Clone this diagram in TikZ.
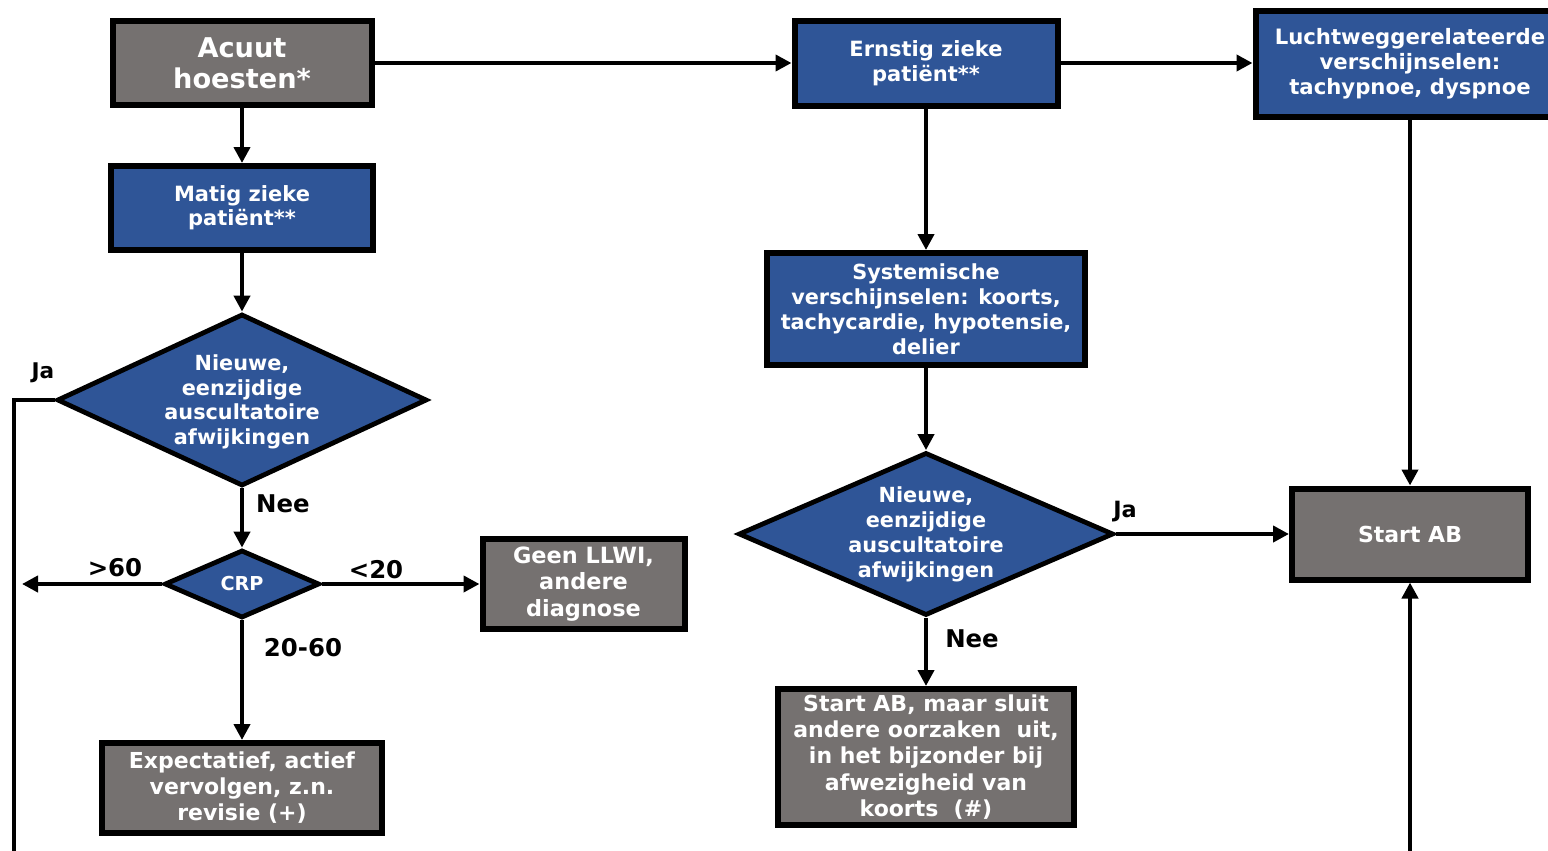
\documentclass[tikz,border=0pt]{standalone}
\usepackage{fontspec}
\setmainfont{DejaVu Sans}
\usetikzlibrary{shapes.geometric,arrows.meta}
\definecolor{boxblue}{RGB}{47,85,151}
\definecolor{boxgray}{RGB}{117,113,112}
\tikzset{
  base/.style={draw=black, line width=3pt, inner sep=0pt, text=white, align=center, font=\bfseries},
  bluebox/.style={base, fill=boxblue},
  graybox/.style={base, fill=boxgray},
  dia/.style={draw=black, line width=2.4pt, fill=boxblue, shape=diamond, inner sep=0pt},
  dtext/.style={text=white, align=center, font=\bfseries\fontsize{10.4}{12.3}\selectfont},
  conn/.style={line width=2.3pt, -{Triangle[length=8pt,width=8pt]}},
  plain/.style={line width=2.3pt},
  lbl/.style={font=\bfseries\fontsize{12.2}{14}\selectfont, text=black, inner sep=0pt}
}
\begin{document}
\begin{tikzpicture}[x=0.5pt,y=-0.5pt]
\useasboundingbox (0,0) rectangle (1548,851);
\clip (0,0) rectangle (1548,851);
% nodes
\node[graybox, minimum width=129.5pt, minimum height=42pt, font=\bfseries\fontsize{13.6}{15.5}\selectfont] (acuut) at (242,63) {Acuut\\hoesten*};
\node[bluebox, minimum width=131pt, minimum height=42pt, font=\bfseries\fontsize{10.5}{12}\selectfont] (matig) at (242,208) {Matig zieke\\patiënt**};
\node[dia, minimum width=185pt, minimum height=86pt] (d1) at (242,400) {};
\node[dtext] (d1t) at ([yshift=-1pt]d1.center) {Nieuwe,\\eenzijdige\\auscultatoire\\afwijkingen};
\node[dia, minimum width=77.5pt, minimum height=34pt] (crp) at (242,584) {};
\node[dtext, font=\bfseries\fontsize{9.6}{11}\selectfont] (crpt) at (crp) {CRP};
\node[graybox, minimum width=101pt, minimum height=45pt, font=\bfseries\fontsize{11.2}{13.2}\selectfont] (geen) at (583.5,584) {Geen LLWI,\\andere\\diagnose};
\node[graybox, minimum width=140pt, minimum height=45pt, font=\bfseries\fontsize{11}{13}\selectfont] (exp) at (242,788) {Expectatief, actief\\vervolgen, z.n.\\revisie (+)};
\node[bluebox, minimum width=131.5pt, minimum height=42.5pt, font=\bfseries\fontsize{10.5}{12.5}\selectfont] (ernstig) at (926,63) {Ernstig zieke\\patiënt**};
\node[bluebox, minimum width=154.5pt, minimum height=53pt, font=\bfseries\fontsize{10.6}{12.5}\selectfont] (lucht) at (1410,64) {Luchtweggerelateerde\\verschijnselen:\\tachypnoe, dyspnoe};
\node[bluebox, minimum width=159pt, minimum height=56pt, font=\bfseries\fontsize{10.4}{12.5}\selectfont] (sys) at (926,309) {Systemische\\verschijnselen: koorts,\\tachycardie, hypotensie,\\delier};
\node[dia, minimum width=187.5pt, minimum height=81.5pt] (d2) at (926,534) {};
\node[dtext, font=\bfseries\fontsize{10.4}{12.5}\selectfont] (d2t) at (d2) {Nieuwe,\\eenzijdige\\auscultatoire\\afwijkingen};
\node[graybox, minimum width=118pt, minimum height=45.5pt, font=\bfseries\fontsize{11}{13}\selectfont] (sab) at (1410,534) {Start AB};
\node[graybox, minimum width=148pt, minimum height=68pt, font=\bfseries\fontsize{11}{13.2}\selectfont] (sabm) at (926,757) {Start AB, maar sluit\\andere oorzaken\ \ uit,\\in het bijzonder bij\\afwezigheid van\\koorts\ \ (\#)};
% free ends
\coordinate (jaleft) at (14,400);
\coordinate (jabot) at (14,860);
\coordinate (gt60) at (22,584);
\coordinate (sabbot) at (1410,860);
% connectors
\draw[conn] (acuut.east) -- (ernstig.west);
\draw[conn] (acuut.south) -- (matig.north);
\draw[conn] (matig.south) -- (d1.north);
\draw[conn] (d1.south) -- (crp.north);
\draw[plain] (d1.west) -- (jaleft) -- (jabot);
\draw[conn] (crp.west) -- (gt60);
\draw[conn] (crp.east) -- (geen.west);
\draw[conn] (crp.south) -- (exp.north);
\draw[conn] (ernstig.east) -- (ernstig.east -| lucht.west);
\draw[conn] (ernstig.south) -- (sys.north);
\draw[conn] (sys.south) -- (d2.north);
\draw[conn] (d2.east) -- (sab.west);
\draw[conn] (d2.south) -- (sabm.north);
\draw[conn] (lucht.south -| sab.north) -- (sab.north);
\draw[conn] (sabbot) -- (sab.south);
% labels
\node[lbl, font=\bfseries\fontsize{10.8}{12}\selectfont] (lja1) at (43,373) {Ja};
\node[lbl] (lnee1) at (283,504) {Nee};
\node[lbl] (lgt60) at (115,568) {>60};
\node[lbl] (llt20) at (376,570) {<20};
\node[lbl] (l2060) at (303,648) {20-60};
\node[lbl, font=\bfseries\fontsize{11.2}{12}\selectfont] (lja2) at (1125,512) {Ja};
\node[lbl] (lnee2) at (972,639) {Nee};
\end{tikzpicture}
\end{document}
